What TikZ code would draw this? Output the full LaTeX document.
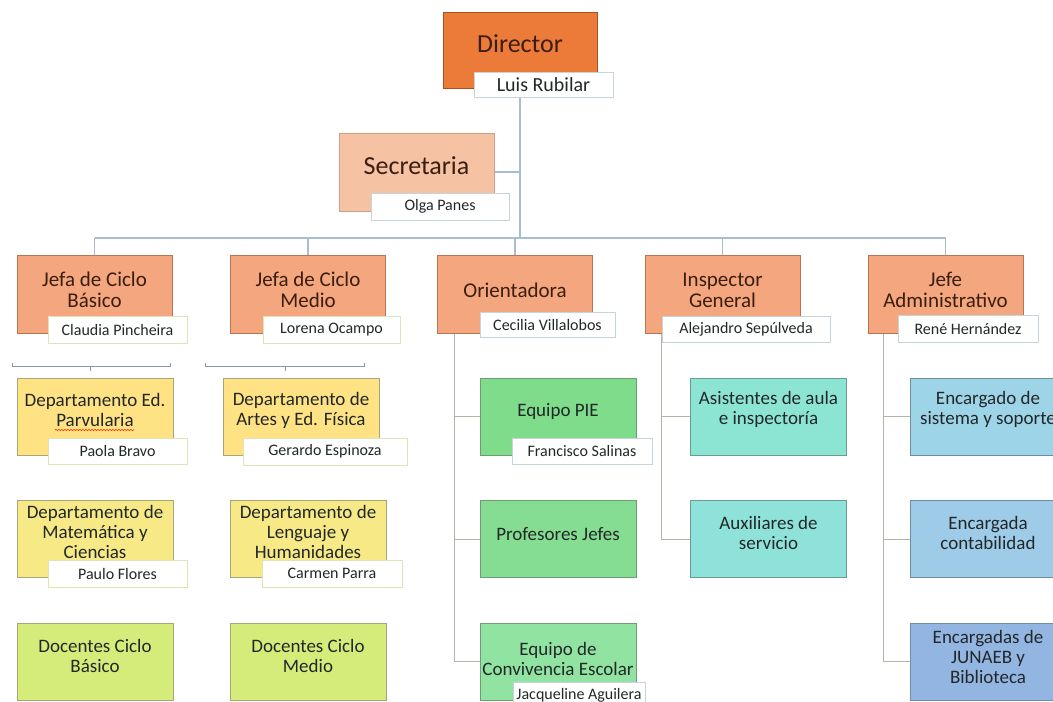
\documentclass[tikz,border=0pt]{standalone}
\usepackage{fontspec}
\setmainfont{Carlito}
\usetikzlibrary{decorations.pathmorphing}
\pgfdeclarelayer{background}
\pgfsetlayers{background,main}
\definecolor{cDir}{HTML}{EC7B3A}
\definecolor{cDirB}{HTML}{A85220}
\definecolor{cSec}{HTML}{F5C2A4}
\definecolor{cSecB}{HTML}{CFA088}
\definecolor{cLtwo}{HTML}{F4A67E}
\definecolor{cLtwoB}{HTML}{B8734F}
\definecolor{cYa}{HTML}{FFE283}
\definecolor{cYb}{HTML}{F7EA86}
\definecolor{cYc}{HTML}{D6EC7A}
\definecolor{cYB}{HTML}{A9A57A}
\definecolor{cGa}{HTML}{7EDC8B}
\definecolor{cGb}{HTML}{85DD91}
\definecolor{cGc}{HTML}{90E3A1}
\definecolor{cGB}{HTML}{6F9C76}
\definecolor{cTa}{HTML}{8CE5D2}
\definecolor{cTb}{HTML}{8FE2DA}
\definecolor{cTB}{HTML}{6A9C94}
\definecolor{cBa}{HTML}{9ED4E8}
\definecolor{cBb}{HTML}{9DCBE8}
\definecolor{cBc}{HTML}{93B5E2}
\definecolor{cBB}{HTML}{6F8CA6}
\definecolor{cTop}{HTML}{A6BED0}
\definecolor{cSub}{HTML}{B9B2A6}
\definecolor{cBr}{HTML}{8898A8}
\definecolor{cLbl}{HTML}{C5D3DA}
\definecolor{cLblY}{HTML}{E2E2B8}
\definecolor{cTxtO}{HTML}{3B1E10}
\definecolor{cTxt}{HTML}{222828}
\tikzset{
  box/.style={rectangle, inner sep=0pt, line width=0.7pt},
  dirbox/.style={box, fill=cDir, draw=cDirB, minimum width=154pt, minimum height=76pt},
  secbox/.style={box, fill=cSec, draw=cSecB, minimum width=155pt, minimum height=78pt},
  ltwobox/.style={box, fill=cLtwo, draw=cLtwoB, minimum width=155pt, minimum height=78pt},
  lthree/.style={box, minimum width=156pt, minimum height=77pt},
  ybox/.style={lthree, fill=#1, draw=cYB},
  gbox/.style={lthree, fill=#1, draw=cGB},
  tbox/.style={lthree, fill=#1, draw=cTB},
  bbox/.style={lthree, fill=#1, draw=cBB},
  lbl/.style={rectangle, fill=white, draw=cLbl, line width=0.7pt, inner sep=0pt,
    minimum height=26pt, text=cTxt, font=\fontsize{16}{16}\selectfont},
  tone/.style={inner sep=0pt, text=cTxtO, font=\fontsize{26}{26}\selectfont},
  ttwo/.style={inner sep=0pt, align=center, text=cTxtO, font=\fontsize{21}{21}\selectfont},
  tthree/.style={inner sep=0pt, align=center, text=cTxt, font=\fontsize{19}{20}\selectfont},
  topline/.style={draw=cTop, line width=1.2pt},
  subline/.style={draw=cSub, line width=1pt},
  brline/.style={draw=cBr, line width=0.8pt},
}
\begin{document}
\begin{tikzpicture}[x=1pt,y=-1pt]
\useasboundingbox (0,0) rectangle (1053,702);
\clip (0,0) rectangle (1053,702);

% top
\node[dirbox] (dir) at (520,50) {};
\node[tone] (dirt) at (520,44) {Director};
\node[lbl, minimum width=139pt, minimum height=25pt, font=\fontsize{20}{20}\selectfont] (luis) at (543.5,84.5) {Luis Rubilar};
\node[secbox] (sec) at (416.5,172) {};
\node[tone] (sect) at (416.5,166) {Secretaria};
\node[lbl, minimum width=138pt, minimum height=27pt] (olga) at (440,206.5) {Olga Panes};

% level 2
\node[ltwobox] (jb) at (94.5,294) {};
\node[ttwo] (jbt) at (94.5,290) {Jefa de Ciclo\\Básico};
\node[lbl, draw=cLblY, minimum width=139pt, minimum height=27pt] (claudia) at (117.5,329.5) {Claudia Pincheira};
\node[ltwobox] (jm) at (308,294) {};
\node[ttwo] (jmt) at (308,290) {Jefa de Ciclo\\Medio};
\node[lbl, draw=cLblY, minimum width=137pt, minimum height=27pt] (lorena) at (331.5,329.5) {Lorena Ocampo};
\node[ltwobox] (ori) at (515,294) {};
\node[ttwo] (orit) at (515,290) {Orientadora};
\node[lbl, minimum width=135pt, minimum height=25pt] (cecilia) at (547.5,324.5) {Cecilia Villalobos};
\node[ltwobox] (ins) at (722.5,294) {};
\node[ttwo] (inst) at (722.5,290) {Inspector\\General};
\node[lbl, minimum width=168pt] (alejandro) at (746,329) {Alejandro Sepúlveda};
\node[ltwobox] (adm) at (945.5,294) {};
\node[ttwo] (admt) at (945.5,290) {Jefe\\Administrativo};
\node[lbl, minimum width=140pt, minimum height=27pt] (rene) at (968,328.5) {René Hernández};

% level 3 yellow
\node[ybox=cYa] (parv) at (95,416.5) {};
\node[tthree] (parvt) at (95,410) {Departamento Ed.\\Parvularia};
\node[lbl, draw=cLblY, minimum width=139pt] (paola) at (117.5,451) {Paola Bravo};
\node[ybox=cYa] (artes) at (301,416.5) {};
\node[tthree] (artest) at (301,410) {Departamento de\\Artes y Ed. Física};
\node[lbl, draw=cLblY, minimum width=164pt, minimum height=27pt] (gerardo) at (325,451.5) {Gerardo Espinoza};
\node[ybox=cYb] (mat) at (95,539) {};
\node[tthree] (matt) at (95,532) {Departamento de\\Matemática y\\Ciencias};
\node[lbl, draw=cLblY, minimum width=139pt, minimum height=27pt] (paulo) at (117.5,573.5) {Paulo Flores};
\node[ybox=cYb] (len) at (308,539) {};
\node[tthree] (lent) at (308,532) {Departamento de\\Lenguaje y\\Humanidades};
\node[lbl, draw=cLblY, minimum width=140pt, minimum height=27pt] (carmen) at (332,573.5) {Carmen Parra};
\node[ybox=cYc] (docb) at (95,661.5) {};
\node[tthree] (docbt) at (95,656) {Docentes Ciclo\\Básico};
\node[ybox=cYc] (docm) at (308,661.5) {};
\node[tthree] (docmt) at (308,656) {Docentes Ciclo\\Medio};

% green
\node[gbox=cGa] (pie) at (558,416.5) {};
\node[tthree] (piet) at (558,411) {Equipo PIE};
\node[lbl, minimum width=140pt] (francisco) at (582,451) {Francisco Salinas};
\node[gbox=cGb] (prof) at (558,539) {};
\node[tthree] (proft) at (558,534) {Profesores Jefes};
\node[gbox=cGc] (conv) at (558,661.5) {};
\node[tthree] (convt) at (558,659) {Equipo de\\Convivencia Escolar};
\node[lbl, minimum width=132pt] (jacq) at (579,695) {Jacqueline Aguilera};

% teal
\node[tbox=cTa] (asis) at (768.5,416.5) {};
\node[tthree] (asist) at (768.5,409) {Asistentes de aula\\e inspectoría};
\node[tbox=cTb] (aux) at (768.5,539) {};
\node[tthree] (auxt) at (768.5,533) {Auxiliares de\\servicio};

% blue
\node[bbox=cBa] (sist) at (988,416.5) {};
\node[tthree] (sistt) at (988,409) {Encargado de\\sistema y soporte};
\node[bbox=cBb] (cont) at (988,539) {};
\node[tthree] (contt) at (988,533) {Encargada\\contabilidad};
\node[bbox=cBc] (jun) at (988,661.5) {};
\node[tthree] (junt) at (988,657) {Encargadas de\\JUNAEB y\\Biblioteca};

% spell-check squiggle under Parvularia
\draw[draw=red!70!orange, line width=0.6pt, decorate, decoration={snake, amplitude=0.6pt, segment length=3pt}] (55,430) -- (134,430);

\coordinate (bus) at (0,238);
\begin{pgfonlayer}{background}
  \fill[white] (0,0) rectangle (1053,702);
  \draw[topline] (dir.center |- luis.south) -- (dir.center |- bus);
  \draw[topline] (sec.east) -- (sec.east -| dir.center);
  \draw[topline] (jb.north |- bus) -- (adm.north |- bus);
  \foreach \n in {jb,jm,ori,ins,adm} \draw[topline] (\n.north) -- (\n.north |- bus);
  \foreach \n in {pie,prof,conv} \draw[subline] ([xshift=17pt]ori.south west) |- (\n.west);
  \foreach \n in {asis,aux} \draw[subline] ([xshift=17pt]ins.south west) |- (\n.west);
  \foreach \n in {sist,cont,jun} \draw[subline] ([xshift=16pt]adm.south west) |- (\n.west);
\end{pgfonlayer}

% brackets
\coordinate (bla) at (12,363);
\coordinate (blb) at (170,363);
\coordinate (blm) at (90,371);
\coordinate (bra) at (205,363);
\coordinate (brb) at (364,363);
\coordinate (brm) at (285,371);
\draw[brline] (bla) -- ++(0,3) -| (blb);
\draw[brline] (blm) -- ++(0,-5);
\draw[brline] (bra) -- ++(0,3) -| (brb);
\draw[brline] (brm) -- ++(0,-5);
\end{tikzpicture}
\end{document}
